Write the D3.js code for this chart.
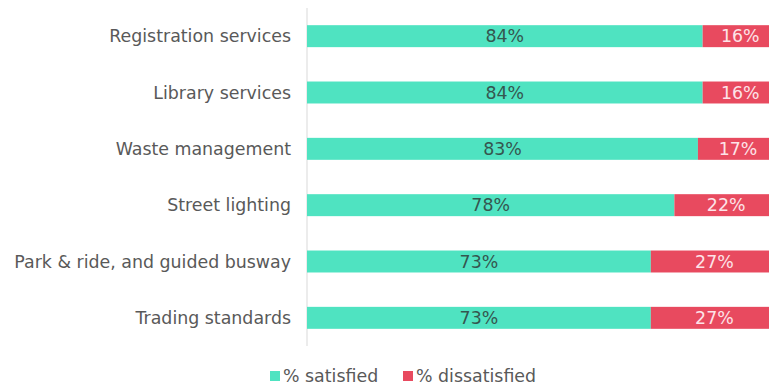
<!DOCTYPE html>
<html>
<head>
<meta charset="utf-8">
<script src="https://cdn.jsdelivr.net/npm/d3@7"></script>
<style>
  html, body { margin: 0; padding: 0; background: #fff; }
  svg { display: block; font-family: "DejaVu Sans", Verdana, sans-serif; }
</style>
</head>
<body>
<svg id="chart" width="769" height="385"></svg>
<script>
// Satisfaction by council service
const services = [
  "Registration services",
  "Library services",
  "Waste management",
  "Street lighting",
  "Park & ride, and guided busway",
  "Trading standards"
];
const satisfied = [84, 84, 83, 78, 73, 73];
const dissatisfied = [16, 16, 17, 22, 27, 27];
const seriesNames = ["% satisfied", "% dissatisfied"];
const seriesColors = ["#4fe3c1", "#e84a5f"];
const labelColors = ["#35564f", "#fde3e8"];

const svg = d3.select("#chart");
const plotLeft = 307, plotW = 471;
const plotTop = 8, plotBottom = 346;
const fontSize = 17.4;

const x = d3.scaleLinear().domain([0, 100]).range([plotLeft, plotLeft + plotW]);
const y = d3.scaleBand().domain(services).range([plotTop, plotBottom]).paddingInner(0.61).paddingOuter(0.305);

const rows = services.map((s, i) => ({ s, vals: [satisfied[i], dissatisfied[i]] }));

// category axis line
svg.append("line")
  .attr("x1", plotLeft).attr("x2", plotLeft)
  .attr("y1", plotTop).attr("y2", plotBottom)
  .attr("stroke", "#d9d9d9").attr("stroke-width", 1);

// category labels
svg.append("g").selectAll("text").data(services).join("text")
  .attr("x", 291)
  .attr("y", d => y(d) + y.bandwidth() / 2)
  .attr("dy", "0.36em")
  .attr("text-anchor", "end")
  .attr("font-size", fontSize)
  .attr("fill", "#595959")
  .text(d => d);

// stacked bars
const g = svg.append("g");
rows.forEach(r => {
  let acc = 0;
  r.vals.forEach((v, k) => {
    const x0 = x(acc), x1 = x(acc + v);
    g.append("rect")
      .attr("x", x0).attr("y", y(r.s))
      .attr("width", x1 - x0).attr("height", y.bandwidth())
      .attr("fill", seriesColors[k]);
    g.append("text")
      .attr("x", (x0 + x1) / 2)
      .attr("y", y(r.s) + y.bandwidth() / 2)
      .attr("dy", "0.36em")
      .attr("text-anchor", "middle")
      .attr("font-size", fontSize)
      .attr("fill", labelColors[k])
      .text(v + "%");
    acc += v;
  });
});

// legend
const legend = svg.append("g");
const legendX = [270, 403];
seriesNames.forEach((n, k) => {
  legend.append("rect")
    .attr("x", legendX[k]).attr("y", 371)
    .attr("width", 10).attr("height", 10)
    .attr("fill", seriesColors[k]);
  legend.append("text")
    .attr("x", legendX[k] + 13).attr("y", 376)
    .attr("dy", "0.36em")
    .attr("font-size", fontSize)
    .attr("fill", "#595959")
    .text(n);
});
</script>
</body>
</html>
